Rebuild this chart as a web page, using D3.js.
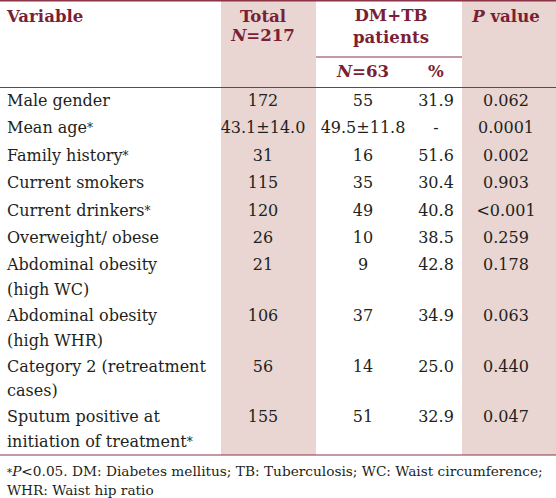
<!DOCTYPE html>
<html>
<head>
<meta charset="utf-8">
<script src="https://cdn.jsdelivr.net/npm/d3@7"></script>
<style>
  html, body { margin: 0; padding: 0; background: #ffffff; }
  svg { display: block; }
  text { font-family: "DejaVu Serif", serif; }
</style>
</head>
<body>
<svg id="chart" width="556" height="498"></svg>
<script>
// ---- data ----
const variables = [
  ["Male gender"],
  ["Mean age*"],
  ["Family history*"],
  ["Current smokers"],
  ["Current drinkers*"],
  ["Overweight/ obese"],
  ["Abdominal obesity", "(high WC)"],
  ["Abdominal obesity", "(high WHR)"],
  ["Category 2 (retreatment", "cases)"],
  ["Sputum positive at", "initiation of treatment*"]
];
const totalN = ["172", "43.1±14.0", "31", "115", "120", "26", "21", "106", "56", "155"];
const dmtbN = ["55", "49.5±11.8", "16", "35", "49", "10", "9", "37", "14", "51"];
const dmtbPct = ["31.9", "-", "51.6", "30.4", "40.8", "38.5", "42.8", "34.9", "25.0", "32.9"];
const pValues = ["0.062", "0.0001", "0.002", "0.903", "<0.001", "0.259", "0.178", "0.063", "0.440", "0.047"];
const columnKeys = ["variable", "total", "dmtbN", "dmtbPct", "p"];
const footnotes = [
  "*P<0.05. DM: Diabetes mellitus; TB: Tuberculosis; WC: Waist circumference;",
  "WHR: Waist hip ratio"
];

// ---- layout ----
const W = 556, H = 498;
const svg = d3.select("#chart");
const headColor = "#7a1f35";
const lineColor = "#8b3447";
const bandColor = "#e9d5d2";
const textColor = "#231f20";
const fs = 16;
const hfs = 16.6;

// column centers via ordinal scale
const colX = d3.scaleOrdinal().domain(columnKeys).range([7, 263, 363, 436, 506]);
// band extents
const bandX = d3.scaleOrdinal().domain(["total", "p"]).range([[221, 316], [462, 556]]);

// row positions: cumulative units (1-line rows and 2-line rows)
const rowUnits = variables.map(v => v.length === 1 ? 27.4 : 50.6);
const rowStart = [0, ...d3.cumsum(rowUnits)].slice(0, variables.length);
const yRow = d3.scaleLinear().domain([0, 1]).range([106, 107]);
const lineGap = 24.5;
const tableBottom = 455;

// helper: write a label, making a trailing "*" a small raised mark
function writeLabel(sel, str) {
  if (str.endsWith("*")) {
    sel.append("tspan").text(str.slice(0, -1));
    sel.append("tspan").attr("font-size", "0.75em").attr("dy", -1).text("*");
  } else {
    sel.text(str);
  }
}

// bands
["total", "p"].forEach(k => {
  const [x0, x1] = bandX(k);
  svg.append("rect").attr("x", x0).attr("y", 0).attr("width", x1 - x0).attr("height", tableBottom).attr("fill", bandColor);
});

// rules
svg.append("line").attr("x1", 0).attr("x2", W).attr("y1", 0.75).attr("y2", 0.75).attr("stroke", lineColor).attr("stroke-width", 1.5);
svg.append("line").attr("x1", 316).attr("x2", 462).attr("y1", 57).attr("y2", 57).attr("stroke", lineColor).attr("stroke-width", 1);
svg.append("line").attr("x1", 0).attr("x2", W).attr("y1", 87.5).attr("y2", 87.5).attr("stroke", lineColor).attr("stroke-width", 1);
svg.append("line").attr("x1", 0).attr("x2", W).attr("y1", tableBottom).attr("y2", tableBottom).attr("stroke", lineColor).attr("stroke-width", 1.2);

// header
const head = svg.append("g").attr("fill", headColor).attr("font-weight", "bold").attr("font-size", hfs);
head.append("text").attr("x", colX("variable")).attr("y", 22).text("Variable");
head.append("text").attr("x", colX("total")).attr("y", 22).attr("text-anchor", "middle").text("Total");
const nt = head.append("text").attr("x", colX("total")).attr("y", 41).attr("text-anchor", "middle");
nt.append("tspan").attr("font-style", "italic").text("N");
nt.append("tspan").text("=217");
head.append("text").attr("x", 391).attr("y", 21).attr("text-anchor", "middle").text("DM+TB");
head.append("text").attr("x", 391).attr("y", 43).attr("text-anchor", "middle").text("patients");
const n63 = head.append("text").attr("x", colX("dmtbN")).attr("y", 77).attr("text-anchor", "middle");
n63.append("tspan").attr("font-style", "italic").text("N");
n63.append("tspan").text("=63");
head.append("text").attr("x", colX("dmtbPct")).attr("y", 77).attr("text-anchor", "middle").text("%");
const pv = head.append("text").attr("x", colX("p")).attr("y", 22).attr("text-anchor", "middle");
pv.append("tspan").attr("font-style", "italic").text("P");
pv.append("tspan").text(" value");

// body
const body = svg.append("g").attr("fill", textColor).attr("font-size", fs);
const rows = body.selectAll("g.row").data(variables).join("g").attr("class", "row")
  .attr("transform", (d, i) => `translate(0,${yRow(rowStart[i])})`);
rows.each(function(d, i) {
  const g = d3.select(this);
  d.forEach((line, j) => {
    writeLabel(g.append("text").attr("x", colX("variable")).attr("y", j * lineGap), line);
  });
  [["total", totalN], ["dmtbN", dmtbN], ["dmtbPct", dmtbPct], ["p", pValues]].forEach(([k, arr]) => {
    g.append("text").attr("x", colX(k)).attr("y", 0).attr("text-anchor", "middle").text(arr[i]);
  });
});

// footnotes
const foot = svg.append("g").attr("fill", textColor).attr("font-size", 13.7);
const f1 = foot.append("text").attr("x", 7).attr("y", 476);
f1.append("tspan").attr("font-size", "0.75em").text("*");
f1.append("tspan").attr("font-style", "italic").text("P");
f1.append("tspan").text(footnotes[0].slice(2));
foot.append("text").attr("x", 7).attr("y", 495).text(footnotes[1]);
</script>
</body>
</html>
